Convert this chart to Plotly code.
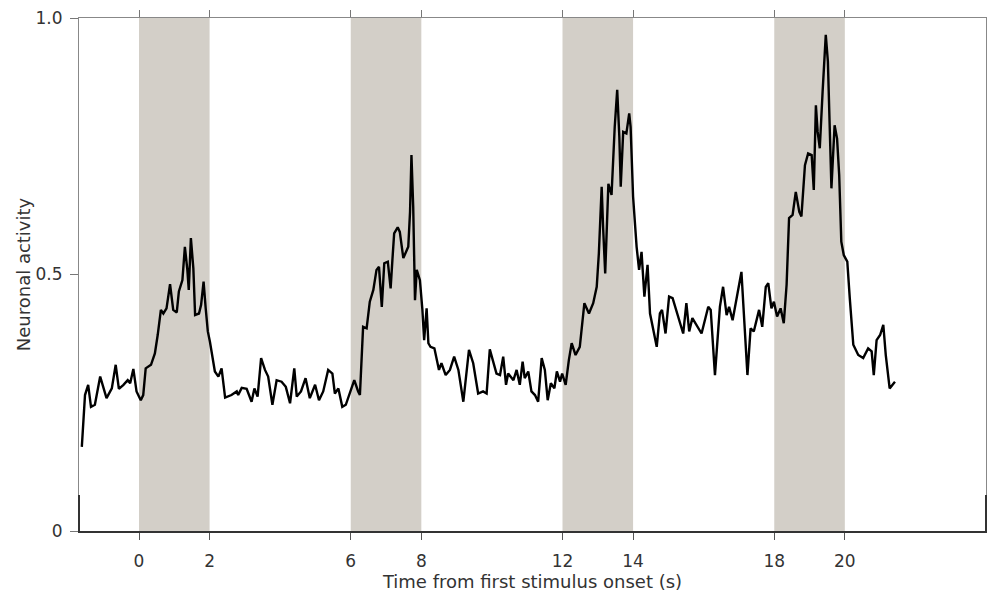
import plotly.graph_objects as go

# Stimulus blocks (s)
stim_onsets = [0, 6, 12, 18]
stim_duration = 2

x_tickvals = [0, 2, 6, 8, 12, 14, 18, 20]
y_tickvals = [0, 0.5, 1.0]
y_ticktext = ["0", "0.5", "1.0"]

time_s = [
    -1.62, -1.53, -1.44, -1.36, -1.25, -1.10, -0.92, -0.77, -0.66, -0.57, -0.44, -0.32, -0.25, -0.16, -0.07,
    0.05, 0.12, 0.19, 0.34, 0.45, 0.53, 0.62, 0.69, 0.78, 0.88, 0.97, 1.07, 1.13, 1.23, 1.30, 1.37, 1.41,
    1.47, 1.54, 1.59, 1.70, 1.76, 1.83, 1.89, 1.95, 2.01, 2.08, 2.15, 2.25, 2.34, 2.44, 2.62, 2.77, 2.81,
    2.91, 3.05, 3.19, 3.27, 3.36, 3.46, 3.57, 3.66, 3.78, 3.90, 4.04, 4.16, 4.28, 4.40, 4.47, 4.59, 4.72,
    4.84, 4.99, 5.10, 5.22, 5.36, 5.48, 5.55, 5.65, 5.76, 5.86, 5.98, 6.10, 6.21, 6.26, 6.35, 6.45, 6.54,
    6.64, 6.73, 6.80, 6.88, 6.95, 7.05, 7.13, 7.18, 7.23, 7.33, 7.39, 7.49, 7.63, 7.68, 7.72, 7.77, 7.82,
    7.87, 7.96, 8.03, 8.08, 8.15, 8.20, 8.26, 8.37, 8.50, 8.57, 8.69, 8.81, 8.93, 9.05, 9.19, 9.35, 9.47,
    9.61, 9.75, 9.85, 9.94, 10.13, 10.23, 10.32, 10.40, 10.46, 10.61, 10.70, 10.79, 10.87, 10.93, 11.03,
    11.12, 11.22, 11.31, 11.41, 11.50, 11.58, 11.67, 11.77, 11.84, 11.93, 11.99, 12.09, 12.18, 12.26,
    12.37, 12.49, 12.62, 12.75, 12.87, 12.97, 13.03, 13.11, 13.15, 13.21, 13.30, 13.39, 13.48, 13.55,
    13.61, 13.65, 13.72, 13.81, 13.89, 13.93, 14.00, 14.10, 14.17, 14.24, 14.32, 14.41, 14.48, 14.67,
    14.76, 14.82, 14.92, 15.02, 15.12, 15.22, 15.32, 15.42, 15.51, 15.59, 15.68, 15.94, 16.13, 16.20,
    16.32, 16.46, 16.55, 16.65, 16.72, 16.82, 17.07, 17.24, 17.33, 17.42, 17.57, 17.66, 17.76, 17.83,
    17.92, 17.99, 18.08, 18.18, 18.27, 18.35, 18.42, 18.52, 18.61, 18.71, 18.77, 18.87, 18.96, 19.06,
    19.12, 19.18, 19.23, 19.29, 19.37, 19.46, 19.52, 19.62, 19.71, 19.78, 19.84, 19.90, 19.97, 20.07,
    20.14, 20.24, 20.38, 20.52, 20.66, 20.76, 20.82, 20.90, 21.00, 21.09, 21.16, 21.27, 21.42,
]

activity = [
    0.164, 0.265, 0.285, 0.242, 0.246, 0.301, 0.259, 0.278, 0.324, 0.277, 0.285, 0.294, 0.288, 0.316, 0.272,
    0.255, 0.265, 0.317, 0.324, 0.346, 0.382, 0.431, 0.424, 0.434, 0.481, 0.431, 0.426, 0.467, 0.489, 0.554,
    0.509, 0.470, 0.571, 0.512, 0.421, 0.424, 0.441, 0.486, 0.434, 0.389, 0.369, 0.343, 0.311, 0.301, 0.317,
    0.260, 0.265, 0.272, 0.265, 0.279, 0.277, 0.252, 0.278, 0.262, 0.337, 0.314, 0.301, 0.246, 0.294, 0.291,
    0.281, 0.249, 0.317, 0.262, 0.272, 0.298, 0.259, 0.285, 0.255, 0.272, 0.314, 0.307, 0.268, 0.278, 0.242,
    0.246, 0.272, 0.294, 0.272, 0.265, 0.398, 0.395, 0.447, 0.470, 0.509, 0.515, 0.437, 0.522, 0.525, 0.473,
    0.528, 0.580, 0.592, 0.583, 0.532, 0.554, 0.622, 0.733, 0.632, 0.450, 0.509, 0.489, 0.431, 0.372, 0.434,
    0.366, 0.359, 0.356, 0.314, 0.327, 0.304, 0.314, 0.340, 0.314, 0.252, 0.353, 0.327, 0.268, 0.272, 0.268,
    0.354, 0.307, 0.304, 0.340, 0.285, 0.307, 0.294, 0.314, 0.285, 0.330, 0.298, 0.311, 0.272, 0.265, 0.252,
    0.337, 0.314, 0.255, 0.288, 0.278, 0.311, 0.291, 0.307, 0.285, 0.333, 0.366, 0.343, 0.359, 0.444, 0.424,
    0.444, 0.476, 0.541, 0.671, 0.593, 0.502, 0.677, 0.655, 0.788, 0.860, 0.769, 0.671, 0.778, 0.775, 0.814,
    0.788, 0.652, 0.554, 0.509, 0.544, 0.457, 0.519, 0.424, 0.359, 0.424, 0.431, 0.385, 0.457, 0.454, 0.430,
    0.405, 0.385, 0.444, 0.389, 0.415, 0.385, 0.437, 0.431, 0.304, 0.437, 0.476, 0.421, 0.437, 0.411, 0.505,
    0.304, 0.395, 0.389, 0.431, 0.398, 0.476, 0.483, 0.434, 0.447, 0.418, 0.434, 0.405, 0.480, 0.610, 0.616,
    0.661, 0.622, 0.613, 0.713, 0.736, 0.733, 0.665, 0.830, 0.778, 0.746, 0.856, 0.967, 0.915, 0.668, 0.791,
    0.765, 0.694, 0.564, 0.538, 0.525, 0.454, 0.363, 0.343, 0.337, 0.356, 0.350, 0.304, 0.372, 0.382, 0.402,
    0.343, 0.278, 0.291,
]

x_range = [-1.7, 24.0]
y_range = [0, 1.0]

font_family = "DejaVu Sans"
text_color = "#333333"
shade_color = "rgb(211,207,200)"

fig = go.Figure()

for onset in stim_onsets:
    fig.add_vrect(x0=onset, x1=onset + stim_duration, fillcolor=shade_color,
                  opacity=1, line_width=0, layer="below")

fig.add_trace(go.Scatter(x=time_s, y=activity, mode="lines",
                         line=dict(color="black", width=2.4), showlegend=False,
                         hoverinfo="skip"))

# invisible trace for top mirror axis
fig.add_trace(go.Scatter(x=[x_range[0]], y=[0], xaxis="x2", mode="markers",
                         marker=dict(opacity=0), showlegend=False, hoverinfo="skip"))

fig.update_layout(
    width=991, height=592,
    margin=dict(l=79, r=5, t=18, b=61),
    plot_bgcolor="white", paper_bgcolor="white",
    font=dict(family=font_family, size=17, color=text_color),
    xaxis=dict(
        range=x_range, tickvals=x_tickvals, showgrid=False, zeroline=False,
        showline=True, linecolor="#333333", linewidth=2,
        ticks="outside", ticklen=7, tickcolor="#555555", tickwidth=1,
        ticklabelstandoff=7,
        title=dict(text="Time from first stimulus onset (s)", standoff=0,
                   font=dict(size=18, color=text_color)),
        tickfont=dict(size=17, color=text_color),
    ),
    xaxis2=dict(
        range=x_range, overlaying="x", side="top", anchor="y",
        tickvals=x_tickvals, showticklabels=False, showgrid=False, zeroline=False,
        showline=True, linecolor="#888888", linewidth=1,
        ticks="outside", ticklen=7, tickcolor="#777777", tickwidth=1,
    ),
    yaxis=dict(
        range=y_range, tickvals=y_tickvals, ticktext=y_ticktext,
        showgrid=False, zeroline=False,
        showline=True, linecolor="#888888", linewidth=1, mirror=True,
        ticks="outside", ticklen=8, tickcolor="#777777", tickwidth=1,
        ticklabelstandoff=4,
        title=dict(text="Neuronal activity", standoff=0,
                   font=dict(size=18, color=text_color)),
        tickfont=dict(size=17, color=text_color),
    ),
)

# darker stubs at the bottom of the side spines
for xp in (0, 1):
    fig.add_shape(type="line", xref="paper", yref="y", x0=xp, x1=xp, y0=0, y1=0.07,
                  line=dict(color="#333333", width=2))

fig.write_html("out.html")
